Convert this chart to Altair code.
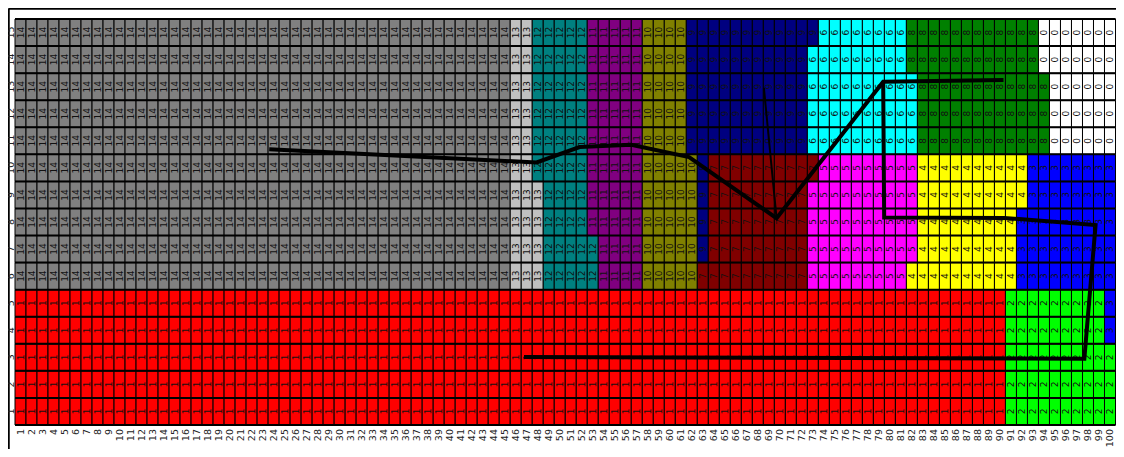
import altair as alt
import pandas as pd

# ---------------- data ----------------
zone_values = [0, 1, 2, 3, 4, 5, 6, 7, 8, 9, 10, 11, 12, 13, 14]
zone_colors = ["#FFFFFF", "#FF0000", "#00FF00", "#0000FF", "#FFFF00", "#FF00FF",
               "#00FFFF", "#800000", "#008000", "#000080", "#808000", "#800080",
               "#008080", "#C0C0C0", "#808080"]

col_labels = list(range(1, 101))
row_labels = list(range(1, 16))

# runs per row: (zone value, first column, last column)
top_a = [(14, 1, 45), (13, 46, 47), (12, 48, 52), (11, 53, 57), (10, 58, 61),
         (9, 62, 72), (6, 73, 82), (8, 83, 94), (0, 95, 100)]
row_runs = {
    15: [(14, 1, 45), (13, 46, 47), (12, 48, 52), (11, 53, 57), (10, 58, 61),
         (9, 62, 73), (6, 74, 81), (8, 82, 93), (0, 94, 100)],
    14: [(14, 1, 45), (13, 46, 47), (12, 48, 52), (11, 53, 57), (10, 58, 61),
         (9, 62, 72), (6, 73, 81), (8, 82, 93), (0, 94, 100)],
    13: top_a,
    12: top_a,
    11: top_a,
    10: [(14, 1, 45), (13, 46, 47), (12, 48, 52), (11, 53, 57), (10, 58, 62),
         (9, 63, 63), (7, 64, 73), (5, 74, 82), (4, 83, 92), (3, 93, 100)],
    9: [(14, 1, 45), (13, 46, 48), (12, 49, 52), (11, 53, 57), (10, 58, 62),
        (9, 63, 63), (7, 64, 72), (5, 73, 82), (4, 83, 92), (3, 93, 100)],
    8: [(14, 1, 45), (13, 46, 48), (12, 49, 52), (11, 53, 57), (10, 58, 62),
        (9, 63, 63), (7, 64, 72), (5, 73, 82), (4, 83, 91), (3, 92, 100)],
    7: [(14, 1, 45), (13, 46, 48), (12, 49, 53), (11, 54, 57), (10, 58, 62),
        (9, 63, 63), (7, 64, 72), (5, 73, 82), (4, 83, 91), (3, 92, 100)],
    6: [(14, 1, 45), (13, 46, 48), (12, 49, 53), (11, 54, 57), (10, 58, 62),
        (7, 63, 72), (5, 73, 81), (4, 82, 91), (3, 92, 100)],
    5: [(1, 1, 90), (2, 91, 99), (3, 100, 100)],
    4: [(1, 1, 90), (2, 91, 99), (3, 100, 100)],
    3: [(1, 1, 90), (2, 91, 100)],
    2: [(1, 1, 90), (2, 91, 100)],
    1: [(1, 1, 90), (2, 91, 100)],
}

# route lines (column units, row units)
path_a_x = [23.6, 47.9, 51.8, 56.5, 61.75, 69.7, 79.39, 90.32]
path_a_y = [10.69, 10.2, 10.77, 10.85, 10.4, 8.14, 13.18, 13.25]
path_b_x = [79.39, 79.48, 90.38, 98.69, 97.67, 46.75]
path_b_y = [13.18, 8.17, 8.15, 7.89, 2.95, 3.01]
path_c_x = [69.7, 68.55]
path_c_y = [8.14, 12.96]

# ---------------- tables ----------------
cells = []
for r in row_labels:
    for v, c0, c1 in row_runs[r]:
        for c in range(c0, c1 + 1):
            cells.append({"row": r, "col": c, "value": v, "label": str(v),
                          "x0": c - 0.5, "x1": c + 0.5, "y0": r - 0.5, "y1": r + 0.5})
cells_df = pd.DataFrame(cells)

hlines_df = pd.DataFrame({"y": [r + 0.5 for r in [0] + row_labels],
                          "xa": 0.5, "xb": 100.5})

xlab_df = pd.DataFrame({"col": col_labels, "label": [str(c) for c in col_labels], "y": 0.35})
ylab_df = pd.DataFrame({"row": row_labels, "label": [str(r) for r in row_labels], "x": 0.15})

paths = []
for name, xs, ys in [("a", path_a_x, path_a_y), ("b", path_b_x, path_b_y)]:
    for i, (px, py) in enumerate(zip(xs, ys)):
        paths.append({"path": name, "order": i, "x": px, "y": py})
paths_df = pd.DataFrame(paths)
thin_df = pd.DataFrame({"path": "c", "order": [0, 1], "x": path_c_x, "y": path_c_y})

# ---------------- scales ----------------
W, H = 1108, 441
KX, KY = 11.005, 27.067
xmin = 0.5 - 7 / KX
ymax = 15.5 + 11 / KY
xscale = alt.Scale(domain=[xmin, xmin + W / KX], nice=False, zero=False)
yscale = alt.Scale(domain=[ymax - H / KY, ymax], nice=False, zero=False)
xaxis = alt.Axis(orient="top", labels=False, ticks=False, grid=False, title=None,
                 domainColor="black", domainWidth=2.5)
yaxis = alt.Axis(orient="left", labels=False, ticks=False, grid=False, title=None,
                 domainColor="black", domainWidth=2.5)

base = alt.Chart(cells_df)

rects = base.mark_rect(stroke="black", strokeWidth=1).encode(
    x=alt.X("x0:Q", scale=xscale, axis=xaxis),
    x2="x1:Q",
    y=alt.Y("y0:Q", scale=yscale, axis=yaxis),
    y2="y1:Q",
    color=alt.Color("value:N", scale=alt.Scale(domain=zone_values, range=zone_colors),
                    legend=None),
)

cell_text = base.mark_text(angle=270, fontSize=9, font="DejaVu Sans", color="#111111",
                           align="center", baseline="middle").encode(
    x=alt.X("col:Q", scale=xscale, axis=xaxis),
    y=alt.Y("row:Q", scale=yscale, axis=yaxis),
    text="label:N",
)

hlines = alt.Chart(hlines_df).mark_rule(color="black", strokeWidth=2).encode(
    x=alt.X("xa:Q", scale=xscale, axis=xaxis),
    x2="xb:Q",
    y=alt.Y("y:Q", scale=yscale, axis=yaxis),
)

xlabels = alt.Chart(xlab_df).mark_text(angle=270, fontSize=9.5, font="DejaVu Sans",
                                       color="#222222", align="right",
                                       baseline="middle").encode(
    x=alt.X("col:Q", scale=xscale, axis=xaxis),
    y=alt.Y("y:Q", scale=yscale, axis=yaxis),
    text="label:N",
)

ylabels = alt.Chart(ylab_df).mark_text(angle=270, fontSize=9.5, font="DejaVu Sans",
                                       color="#222222", align="center",
                                       baseline="middle").encode(
    x=alt.X("x:Q", scale=xscale, axis=xaxis),
    y=alt.Y("row:Q", scale=yscale, axis=yaxis),
    text="label:N",
)

thick = alt.Chart(paths_df).mark_line(color="black", strokeWidth=4).encode(
    x=alt.X("x:Q", scale=xscale, axis=xaxis),
    y=alt.Y("y:Q", scale=yscale, axis=yaxis),
    detail="path:N",
    order="order:Q",
)

thin = alt.Chart(thin_df).mark_line(color="black", strokeWidth=2).encode(
    x=alt.X("x:Q", scale=xscale, axis=xaxis),
    y=alt.Y("y:Q", scale=yscale, axis=yaxis),
    order="order:Q",
)

chart = alt.layer(rects, cell_text, hlines, xlabels, ylabels, thick, thin).properties(
    width=W, height=H, padding=0, autosize=alt.AutoSizeParams(type="none"),
    background="white",
).configure_view(stroke=None)

chart.save("out.html", embed_options={"renderer": "svg", "actions": False})
